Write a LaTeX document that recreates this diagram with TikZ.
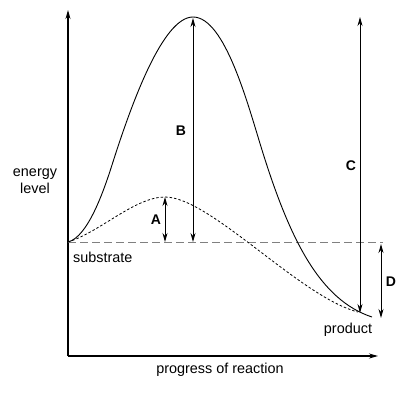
\documentclass[tikz,border=0pt]{standalone}
\usepackage{fontspec}
\setmainfont{Liberation Sans}
\usetikzlibrary{arrows.meta}
\begin{document}
\begin{tikzpicture}[x=1pt,y=-1pt,
  txt/.style={inner sep=0pt,font=\fontsize{14.4}{16.5}\selectfont},
  lbl/.style={inner sep=0pt,font=\fontsize{14}{16}\selectfont\bfseries},
  axis/.style={line width=1.1pt,-{Stealth[length=9pt,width=5pt]}},
  dim/.style={line width=0.9pt,{Stealth[length=9pt,width=5pt]}-{Stealth[length=9pt,width=5pt]}},
  curve/.style={line width=0.9pt},
  dcurve/.style={line width=0.8pt,dash pattern=on 2.5pt off 2pt},
  base/.style={line width=1pt,gray,dash pattern=on 8pt off 4pt}]
\useasboundingbox (0,0) rectangle (409,397);
% axes
\coordinate (O) at (68,356);
\coordinate (Ytop) at (68,10);
\coordinate (Xend) at (378,356);
\draw[axis] (O) -- (Ytop);
\draw[axis] (O) -- (Xend);
% substrate level
\coordinate (S) at (68,242);
\coordinate (Send) at (383,242);
\draw[base] (S) -- (Send);
% curves
\coordinate (P) at (193,17);
\coordinate (E) at (372,317);
\coordinate (Q) at (165,197);
\coordinate (F) at (358,312);
\coordinate (I1) at (112,165);
\coordinate (I2) at (262,150);
\draw[curve] (S) .. controls (88,237) and (104,190) .. (I1)
                 .. controls (132,102) and (163,17) .. (P)
                 .. controls (225,17) and (248,105) .. (I2)
                 .. controls (290,240) and (320,300) .. (E);
\draw[dcurve] (S) .. controls (100,232) and (135,197) .. (Q)
                  .. controls (210,197) and (300,297) .. (F);
% dimension arrows
\coordinate (Bt) at (193,18); \coordinate (Bb) at (193,242);
\coordinate (At) at (165,197); \coordinate (Ab) at (165,242);
\coordinate (Ct) at (360,17); \coordinate (Cb) at (360,313);
\coordinate (Dt) at (381,244); \coordinate (Db) at (381,318);
\draw[dim] (Bt) -- (Bb);
\draw[dim] (At) -- (Ab);
\draw[dim] (Ct) -- (Cb);
\draw[dim] (Dt) -- (Db);
% labels
\node[lbl] (B) at (181,131) {B};
\node[lbl] (A) at (156,220) {A};
\node[lbl] (C) at (351,166) {C};
\node[lbl] (D) at (391,282) {D};
\node[txt,align=center] (energy) at (35,181) {energy\\level};
\node[txt,anchor=west] (sub) at (73,257) {substrate};
\node[txt] (prod) at (348,330) {product};
\node[txt] (prog) at (220,370) {progress of reaction};
\end{tikzpicture}
\end{document}
